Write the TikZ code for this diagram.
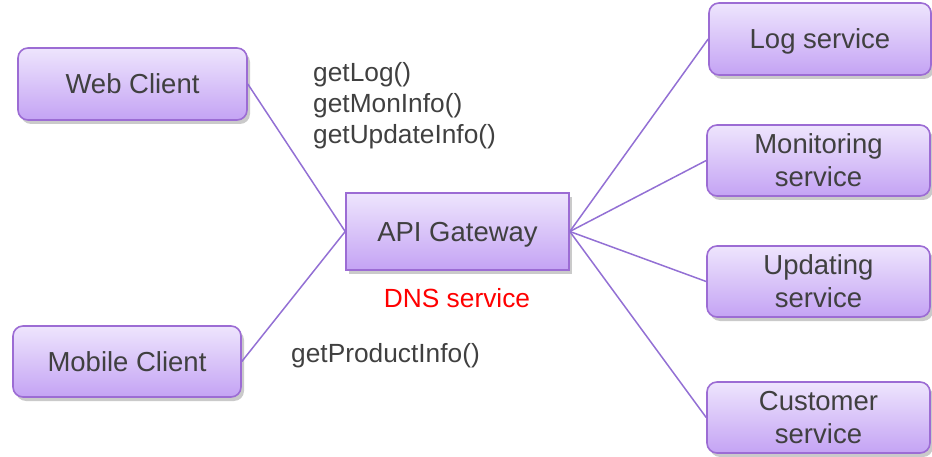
\documentclass[tikz,border=0pt]{standalone}
\usepackage{fontspec}
\setmainfont{Liberation Sans}
\usetikzlibrary{shadows}
\definecolor{boxtop}{HTML}{EEE5FD}
\definecolor{boxbot}{HTML}{C4A3F4}
\definecolor{boxborder}{HTML}{9C6CD4}
\definecolor{linkcol}{HTML}{9370D4}
\definecolor{txt}{HTML}{404040}
\tikzset{
  svc/.style={draw=boxborder, line width=1.6pt, rounded corners=10pt,
    top color=boxtop, bottom color=boxbot, text=txt,
    font=\fontsize{27.5}{33}\selectfont, align=center, inner sep=0pt, text depth=0pt,
    drop shadow={shadow xshift=3pt, shadow yshift=-4pt, opacity=0.35, fill=black!60}},
  gw/.style={svc, rounded corners=0pt},
  link/.style={draw=linkcol, line width=1.5pt},
  lbl/.style={text=txt, font=\fontsize{26.3}{31}\selectfont, align=left, inner sep=0pt}
}
\begin{document}
\begin{tikzpicture}[x=1pt, y=-1pt]
\useasboundingbox (0,0) rectangle (932,457);
\node[svc, minimum width=229pt, minimum height=72pt] (web) at (132.5,84) {Web Client};
\node[svc, minimum width=228pt, minimum height=71pt] (mob) at (127,361.5) {Mobile Client};
\node[gw, minimum width=223pt, minimum height=77pt] (api) at (457.5,231.5) {API Gateway};
\node[svc, minimum width=222pt, minimum height=72pt] (log) at (820,39) {Log service};
\node[svc, minimum width=223pt, minimum height=71pt] (mon) at (818.5,160.5) {Monitoring\\service};
\node[svc, minimum width=223pt, minimum height=71pt] (upd) at (818.5,281.5) {Updating\\service};
\node[svc, minimum width=223pt, minimum height=71pt] (cus) at (818.5,417.5) {Customer\\service};
\draw[link] (web.east) -- (api.west);
\draw[link] (mob.east) -- (api.west);
\draw[link] (api.east) -- (log.west);
\draw[link] (api.east) -- (mon.west);
\draw[link] (api.east) -- (upd.west);
\draw[link] (api.east) -- (cus.west);
\node[lbl, anchor=west] (calls) at (313,106) {getLog()\\getMonInfo()\\getUpdateInfo()};
\node[lbl, anchor=west] (prod) at (291,356) {getProductInfo()};
\node[lbl, text=red] (dns) at (457,298) {DNS service};
\end{tikzpicture}
\end{document}
